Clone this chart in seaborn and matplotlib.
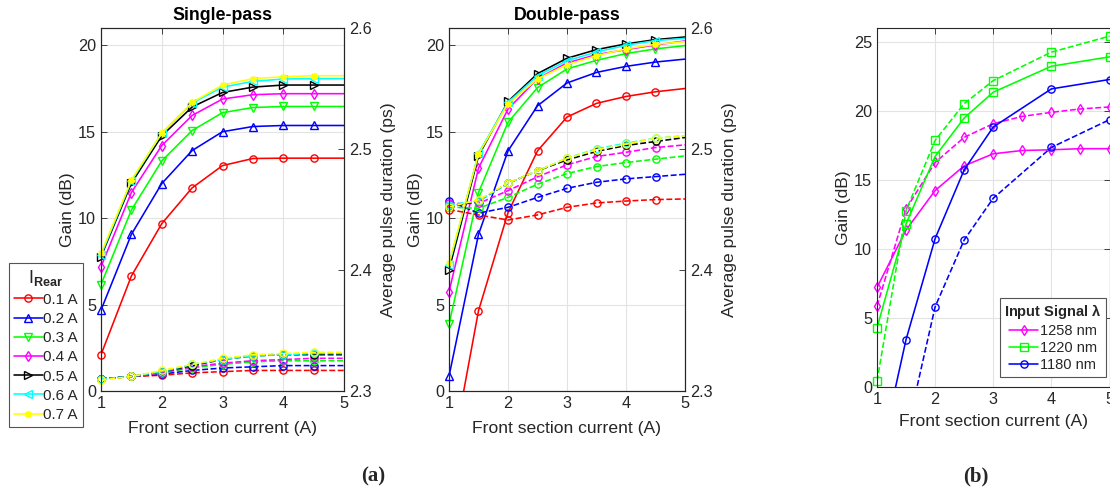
import numpy as np
import pandas as pd
import matplotlib
matplotlib.use('Agg')
import matplotlib.pyplot as plt
import seaborn as sns
from matplotlib.lines import Line2D

sns.set_theme(style='white')
plt.rcParams['font.family'] = ['Liberation Sans', 'DejaVu Sans']
plt.rcParams['mathtext.fontset'] = 'custom'
plt.rcParams['mathtext.rm'] = 'Liberation Sans'
plt.rcParams['mathtext.bf'] = 'Liberation Sans:bold'
plt.rcParams['mathtext.it'] = 'Liberation Sans:italic'

# ---------------- data ----------------
front_current = [1, 1.5, 2, 2.5, 3, 3.5, 4, 4.5, 5]
rear_labels = ['0.1 A', '0.2 A', '0.3 A', '0.4 A', '0.5 A', '0.6 A', '0.7 A']
rear_colors = ['#ff0000', '#0000ff', '#00ff00', '#ff00ff', '#000000', '#00ffff', '#ffff00']
rear_markers = ['o', '^', 'v', 'd', '>', '<', (8, 2, 0)]

# Single-pass gain (dB)
sp_gain_01 = [2.1, 6.65, 9.68, 11.75, 13.04, 13.45, 13.47, 13.47, 13.47]
sp_gain_02 = [4.68, 9.06, 12.0, 13.91, 15.0, 15.3, 15.36, 15.36, 15.36]
sp_gain_03 = [6.16, 10.47, 13.31, 15.07, 16.1, 16.4, 16.46, 16.46, 16.46]
sp_gain_04 = [7.19, 11.48, 14.2, 15.94, 16.89, 17.14, 17.2, 17.2, 17.2]
sp_gain_05 = [7.77, 12.02, 14.76, 16.43, 17.27, 17.58, 17.7, 17.7, 17.7]
sp_gain_06 = [7.86, 12.15, 14.92, 16.66, 17.58, 17.91, 18.05, 18.07, 18.07]
sp_gain_07 = [7.96, 12.21, 14.92, 16.7, 17.7, 18.07, 18.18, 18.24, 18.24]

# Single-pass average pulse duration (ps)
sp_pulse_01 = [2.310, 2.312, 2.313, 2.315, 2.316, 2.317, 2.317, 2.317, 2.317]
sp_pulse_02 = [2.310, 2.312, 2.314, 2.317, 2.319, 2.320, 2.321, 2.321, 2.321]
sp_pulse_03 = [2.310, 2.312, 2.315, 2.319, 2.322, 2.324, 2.325, 2.325, 2.325]
sp_pulse_04 = [2.310, 2.312, 2.315, 2.320, 2.323, 2.325, 2.326, 2.327, 2.327]
sp_pulse_05 = [2.310, 2.312, 2.316, 2.321, 2.326, 2.329, 2.330, 2.330, 2.330]
sp_pulse_06 = [2.310, 2.312, 2.316, 2.322, 2.326, 2.329, 2.330, 2.331, 2.331]
sp_pulse_07 = [2.309, 2.312, 2.317, 2.322, 2.327, 2.330, 2.331, 2.332, 2.332]

# Double-pass gain (dB)
dp_gain_01 = [-4.6, 4.64, 10.32, 13.89, 15.85, 16.64, 17.04, 17.31, 17.5]
dp_gain_02 = [0.85, 9.06, 13.89, 16.5, 17.82, 18.43, 18.78, 19.03, 19.2]
dp_gain_03 = [3.86, 11.48, 15.54, 17.55, 18.63, 19.13, 19.52, 19.79, 19.98]
dp_gain_04 = [5.74, 12.89, 16.31, 18.07, 18.98, 19.46, 19.75, 20.02, 20.25]
dp_gain_05 = [7.0, 13.6, 16.75, 18.36, 19.25, 19.75, 20.08, 20.33, 20.48]
dp_gain_06 = [7.29, 13.76, 16.7, 18.24, 19.11, 19.61, 20.0, 20.27, 20.4]
dp_gain_07 = [7.38, 13.72, 16.62, 18.05, 18.88, 19.4, 19.79, 20.06, 20.21]

# Double-pass average pulse duration (ps)
dp_pulse_01 = [2.450, 2.4455, 2.4413, 2.4455, 2.4518, 2.4554, 2.4570, 2.4582, 2.4587]
dp_pulse_02 = [2.457, 2.4470, 2.4518, 2.4600, 2.4675, 2.4725, 2.4753, 2.4772, 2.4791]
dp_pulse_03 = [2.452, 2.4510, 2.4600, 2.4709, 2.4797, 2.4855, 2.4888, 2.4916, 2.4943]
dp_pulse_04 = [2.455, 2.4550, 2.4656, 2.4770, 2.4869, 2.4938, 2.4973, 2.5012, 2.5034]
dp_pulse_05 = [2.452, 2.4570, 2.4717, 2.4820, 2.4910, 2.4980, 2.5029, 2.5062, 2.5095]
dp_pulse_06 = [2.454, 2.4570, 2.4717, 2.4820, 2.4924, 2.5001, 2.5048, 2.5089, 2.5109]
dp_pulse_07 = [2.452, 2.4580, 2.4720, 2.4820, 2.4924, 2.4993, 2.5040, 2.5089, 2.5109]

# Panel (b): gain vs front current for three input wavelengths
b_x_fine = [1, 1.5, 2, 2.5, 3, 3.5, 4, 4.5, 5]
b_x_coarse = [1, 1.5, 2, 2.5, 3, 4, 5]
b_x_blue_dash = [1.5, 2, 2.5, 3, 4, 5]
b_1258_solid = [7.21, 11.37, 14.23, 16.02, 16.89, 17.13, 17.18, 17.26, 17.26]
b_1258_dash = [5.86, 12.9, 16.26, 18.08, 19.07, 19.6, 19.89, 20.14, 20.28]
b_1220_solid = [4.28, 11.81, 16.7, 19.48, 21.35, 23.23, 23.91]
b_1220_dash = [0.41, 12.78, 17.86, 20.52, 22.19, 24.25, 25.41]
b_1180_solid = [-6.1, 3.44, 10.75, 15.73, 18.83, 21.59, 22.27]
b_1180_dash = [-3.5, 5.81, 10.65, 13.67, 17.35, 19.36]
b_labels = ['1258 nm', '1220 nm', '1180 nm']
b_colors = ['#ff00ff', '#00ff00', '#0000ff']
b_markers = ['d', 's', 'o']

sp_gain = [sp_gain_01, sp_gain_02, sp_gain_03, sp_gain_04, sp_gain_05, sp_gain_06, sp_gain_07]
sp_pulse = [sp_pulse_01, sp_pulse_02, sp_pulse_03, sp_pulse_04, sp_pulse_05, sp_pulse_06, sp_pulse_07]
dp_gain = [dp_gain_01, dp_gain_02, dp_gain_03, dp_gain_04, dp_gain_05, dp_gain_06, dp_gain_07]
dp_pulse = [dp_pulse_01, dp_pulse_02, dp_pulse_03, dp_pulse_04, dp_pulse_05, dp_pulse_06, dp_pulse_07]

# ---------------- style ----------------
W, H = 1110, 488
AX_COLOR = '#262626'
GRID_COLOR = '#e3e3e3'
FS_TICK = 11.7
FS_LABEL = 12.6
FS_LEG = 11
LW = 1.15
MS = 5.2


def draw_series(ax, x, y, color, marker, ls, ylim, xmax_marker=5.0, clip_markers=False):
    df = pd.DataFrame({'x': x, 'y': y})
    sns.lineplot(data=df, x='x', y='y', ax=ax, color=color, linestyle=ls,
                 linewidth=LW, errorbar=None, sort=False)
    m = df[(df.y >= ylim[0]) & (df.y <= ylim[1]) & (df.x <= xmax_marker)]
    sns.lineplot(data=m, x='x', y='y', ax=ax, color=color, linestyle='none',
                 marker=marker, markersize=MS, markerfacecolor='none',
                 markeredgecolor=color, markeredgewidth=1.0,
                 errorbar=None, sort=False, clip_on=clip_markers)


def style_axes(ax):
    for s in ax.spines.values():
        s.set_color(AX_COLOR)
        s.set_linewidth(0.8)
    ax.tick_params(direction='in', length=4, width=0.6, colors=AX_COLOR,
                   labelsize=FS_TICK, pad=3.5)


fig = plt.figure(figsize=(W / 100, H / 100), dpi=100)

panels = [
    ('Single-pass', [101, 28, 344, 391], sp_gain, sp_pulse),
    ('Double-pass', [449, 28, 685, 391], dp_gain, dp_pulse),
]
gain_lim = (0, 21)
pulse_lim = (2.3, 2.6)
for title, (x0, y0, x1, y1), gains, pulses in panels:
    ax = fig.add_axes([x0 / W, 1 - y1 / H, (x1 - x0) / W, (y1 - y0) / H])
    axr = ax.twinx()
    for g, c, mk in zip(gains, rear_colors, rear_markers):
        draw_series(ax, front_current, g, c, mk, '-', gain_lim, xmax_marker=4.6)
    for p, c in zip(pulses, rear_colors):
        draw_series(axr, front_current, p, c, 'o', '--', pulse_lim, xmax_marker=4.6)
    ax.set_xlim(1, 5)
    ax.set_ylim(*gain_lim)
    axr.set_ylim(*pulse_lim)
    ax.set_xticks([1, 2, 3, 4, 5])
    ax.set_yticks([0, 5, 10, 15, 20])
    axr.set_yticks([2.3, 2.4, 2.5, 2.6])
    ax.grid(True, color=GRID_COLOR, linewidth=0.8)
    ax.set_axisbelow(True)
    style_axes(ax)
    style_axes(axr)
    ax.tick_params(top=True)
    ax.set_xlabel('Front section current (A)', fontsize=FS_LABEL, color=AX_COLOR, labelpad=7)
    ax.set_ylabel('Gain (dB)', fontsize=FS_LABEL, color=AX_COLOR, labelpad=2)
    axr.set_ylabel('Average pulse duration (ps)', fontsize=FS_LABEL, color=AX_COLOR, labelpad=7)
    ax.set_title(title, fontsize=12.8, fontweight='bold', color='black', pad=6)

# Legend for panel (a)
handles_a = [Line2D([], [], color=c, marker=mk, markersize=MS, markerfacecolor='none',
                    markeredgecolor=c, markeredgewidth=1.0, linewidth=LW)
             for c, mk in zip(rear_colors, rear_markers)]
leg_a = fig.legend(handles_a, rear_labels, loc='upper left',
                   bbox_to_anchor=(9 / W, 1 - 263 / H), bbox_transform=fig.transFigure,
                   borderaxespad=0, frameon=True, fancybox=False, edgecolor='#555555',
                   fontsize=FS_LEG, title=r'I$_{\mathbf{Rear}}$', title_fontsize=13,
                   handlelength=1.9, handletextpad=0.05, labelspacing=0.34,
                   borderpad=0.3, framealpha=1)
leg_a.get_frame().set_linewidth(0.8)

# Panel (b)
axb = fig.add_axes([877 / W, 1 - 387 / H, 232.5 / W, 359 / H])
b_lim = (0, 26)
draw_series(axb, b_x_fine, b_1258_solid, b_colors[0], 'd', '-', b_lim)
draw_series(axb, b_x_fine, b_1258_dash, b_colors[0], 'd', '--', b_lim)
draw_series(axb, b_x_coarse, b_1220_solid, b_colors[1], 's', '-', b_lim)
draw_series(axb, b_x_coarse, b_1220_dash, b_colors[1], 's', '--', b_lim)
draw_series(axb, b_x_coarse, b_1180_solid, b_colors[2], 'o', '-', b_lim)
draw_series(axb, b_x_blue_dash, b_1180_dash, b_colors[2], 'o', '--', b_lim)
axb.set_xlim(1, 5)
axb.set_ylim(*b_lim)
axb.set_xticks([1, 2, 3, 4, 5])
axb.set_yticks([0, 5, 10, 15, 20, 25])
axb.grid(True, color=GRID_COLOR, linewidth=0.8)
axb.set_axisbelow(True)
style_axes(axb)
axb.tick_params(top=True, right=True)
axb.set_xlabel('Front section current (A)', fontsize=FS_LABEL, color=AX_COLOR, labelpad=5)
axb.set_ylabel('Gain (dB)', fontsize=FS_LABEL, color=AX_COLOR, labelpad=2)

handles_b = [Line2D([], [], color=c, marker=mk, markersize=MS, markerfacecolor='none',
                    markeredgecolor=c, markeredgewidth=1.0, linewidth=LW)
             for c, mk in zip(b_colors, b_markers)]
leg_b = fig.legend(handles_b, b_labels, loc='upper left',
                   bbox_to_anchor=(1000 / W, 1 - 298 / H), bbox_transform=fig.transFigure,
                   borderaxespad=0, frameon=True, fancybox=False, edgecolor='#555555',
                   fontsize=FS_LEG - 0.5, title=r'Input Signal $\mathbf{\lambda}$',
                   title_fontproperties={'weight': 'bold', 'size': FS_LEG - 0.5},
                   handlelength=2.0, handletextpad=0.1, labelspacing=0.2,
                   borderpad=0.3, framealpha=1)
leg_b.get_frame().set_linewidth(0.8)

# Panel captions
fig.text(373 / W, 1 - 476 / H, '(a)', fontsize=15, fontweight='bold',
         family=['Liberation Serif'], ha='center', va='center')
fig.text(976 / W, 1 - 476 / H, '(b)', fontsize=15, fontweight='bold',
         family=['Liberation Serif'], ha='center', va='center')

# Separator line under legend titles
fig.canvas.draw()
renderer = fig.canvas.get_renderer()
inv = fig.transFigure.inverted()
for leg in (leg_a, leg_b):
    fb = leg.get_frame().get_window_extent(renderer)
    tb = leg.get_title().get_window_extent(renderer)
    ysep = tb.y0 - 2
    (fx0, fy), = inv.transform([(fb.x0, ysep)])
    (fx1, _), = inv.transform([(fb.x1, ysep)])
    fig.add_artist(Line2D([fx0, fx1], [fy, fy], transform=fig.transFigure,
                          color='#555555', linewidth=0.8))

fig.savefig('out.png', dpi=100)
